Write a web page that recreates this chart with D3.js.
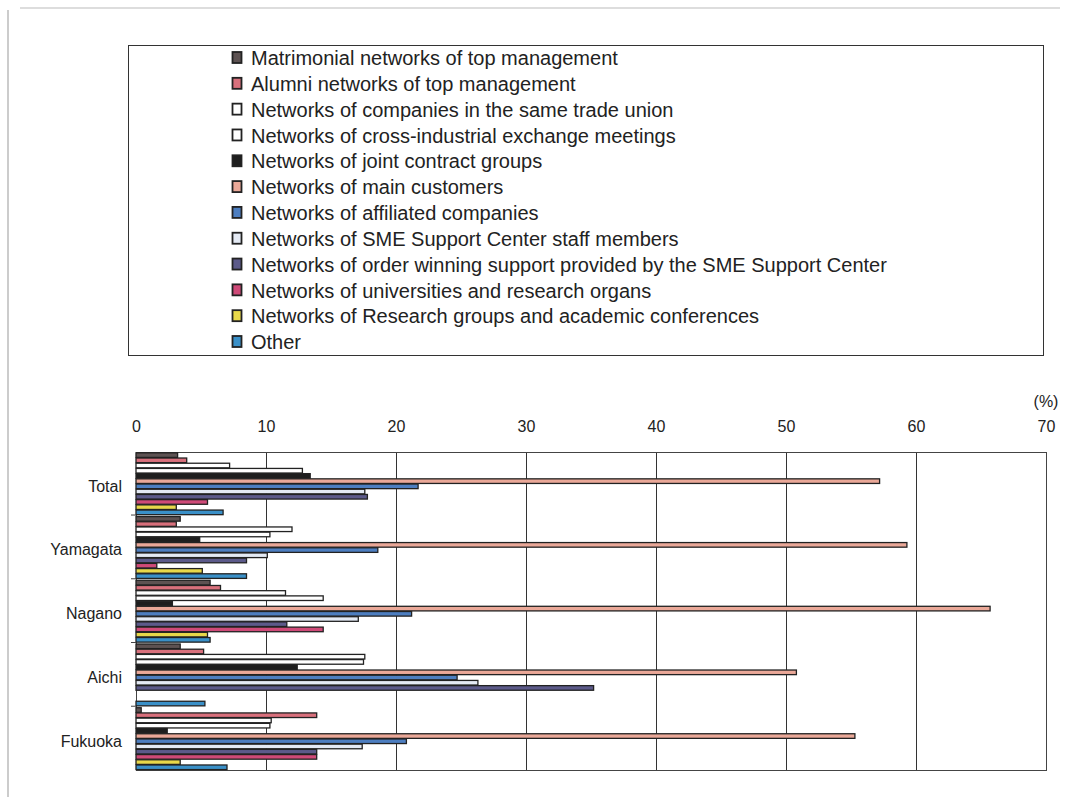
<!DOCTYPE html>
<html>
<head>
<meta charset="utf-8">
<script src="https://cdn.jsdelivr.net/npm/d3@7"></script>
<style>
  html, body { margin: 0; padding: 0; background: #fff; }
  svg { display: block; }
  text { font-family: "Liberation Sans", Arial, sans-serif; fill: #222; }
</style>
</head>
<body>
<svg id="chart" width="1069" height="797"></svg>
<script>
// Regions (groups of bars, top to bottom)
const regions = ["Total", "Yamagata", "Nagano", "Aichi", "Fukuoka"];

// Network types (series, in legend order)
const seriesNames = [
  "Matrimonial networks of top management",
  "Alumni networks of top management",
  "Networks of companies in the same trade union",
  "Networks of cross-industrial exchange meetings",
  "Networks of joint contract groups",
  "Networks of main customers",
  "Networks of affiliated companies",
  "Networks of SME Support Center staff members",
  "Networks of order winning support provided by the SME Support Center",
  "Networks of universities and research organs",
  "Networks of Research groups and academic conferences",
  "Other"
];

// Share of firms (%) per region, one array per series (Total, Yamagata, Nagano, Aichi, Fukuoka)
const matrimonial   = [3.2, 3.4, 5.7, 3.4, 0.4];
const alumni        = [3.9, 3.1, 6.5, 5.2, 13.9];
const tradeUnion    = [7.2, 12.0, 11.5, 17.6, 10.4];
const crossIndustry = [12.8, 10.3, 14.4, 17.5, 10.3];
const jointContract = [13.4, 4.9, 2.8, 12.4, 2.4];
const mainCustomers = [57.2, 59.3, 65.7, 50.8, 55.3];
const affiliated    = [21.7, 18.6, 21.2, 24.7, 20.8];
const smeStaff      = [17.6, 10.1, 17.1, 26.3, 17.4];
const orderWinning  = [17.8, 8.5, 11.6, 35.2, 13.9];
const universities  = [5.5, 1.6, 14.4, 0, 13.9];
const researchGroups= [3.1, 5.1, 5.5, 0, 3.4];
const other         = [6.7, 8.5, 5.7, 5.3, 7.0];

const xTicks = [0, 10, 20, 30, 40, 50, 60, 70];

const seriesValues = [matrimonial, alumni, tradeUnion, crossIndustry, jointContract,
  mainCustomers, affiliated, smeStaff, orderWinning, universities, researchGroups, other];

const fills = ["#5d5252", "#d8707c", "#ffffff", "#ffffff", "#1e1e1e", "#eaa898",
  "#4d7ec0", "#e4eaf4", "#5c5a8a", "#cf4a78", "#e8d84a", "#3a90c8"];

const svg = d3.select("#chart");

// Page frame lines
svg.append("line").attr("x1", 8).attr("x2", 8).attr("y1", 10).attr("y2", 797)
  .attr("stroke", "#999").attr("stroke-width", 1);
svg.append("line").attr("x1", 20).attr("x2", 1060).attr("y1", 8).attr("y2", 8)
  .attr("stroke", "#bbb").attr("stroke-width", 1);

// Legend box
const legend = svg.append("g");
legend.append("rect").attr("x", 128.5).attr("y", 45.5).attr("width", 915).attr("height", 310)
  .attr("fill", "#fff").attr("stroke", "#333").attr("stroke-width", 1);
const legY = d3.scalePoint().domain(seriesNames).range([58, 342]);
seriesNames.forEach((name, i) => {
  const y = legY(name);
  legend.append("rect").attr("x", 232.5).attr("y", y - 6).attr("width", 9).attr("height", 11)
    .attr("fill", fills[i]).attr("stroke", "#222").attr("stroke-width", 1.8);
  legend.append("text").attr("x", 251).attr("y", y).attr("dy", "0.36em")
    .attr("font-size", 20).text(name);
});

// Plot area
const margin = { left: 136, right: 1046, top: 452, bottom: 770 };
const x = d3.scaleLinear().domain([0, 70]).range([margin.left, margin.right]);
const y0 = d3.scaleBand().domain(regions).range([margin.top, margin.bottom]).paddingInner(0.02).paddingOuter(0.005);
const y1 = d3.scaleBand().domain(d3.range(seriesNames.length)).range([0, y0.bandwidth()]).padding(0);

const plot = svg.append("g");

// Vertical grid lines
plot.selectAll("line.grid").data(xTicks.slice(1, -1)).join("line")
  .attr("class", "grid")
  .attr("x1", d => Math.round(x(d)) + 0.5).attr("x2", d => Math.round(x(d)) + 0.5)
  .attr("y1", margin.top).attr("y2", margin.bottom)
  .attr("stroke", "#333").attr("stroke-width", 1);

// Plot frame
plot.append("rect").attr("x", margin.left + 0.5).attr("y", margin.top + 0.5)
  .attr("width", margin.right - margin.left).attr("height", margin.bottom - margin.top)
  .attr("fill", "none").attr("stroke", "#444").attr("stroke-width", 1);

// Bars
regions.forEach((region, r) => {
  const g = plot.append("g").attr("transform", `translate(0,${y0(region)})`);
  g.selectAll("rect").data(seriesValues.map((vals, s) => ({ s, v: vals[r] }))).join("rect")
    .attr("x", x(0))
    .attr("y", d => y1(d.s) + 0.5)
    .attr("width", d => Math.max(0, x(d.v) - x(0)))
    .attr("height", y1.bandwidth() - 0.6)
    .attr("fill", d => fills[d.s])
    .attr("stroke", d => d.v > 0 ? "#222" : "none")
    .attr("stroke-width", 1.3);
});

// Top axis with tick labels
const xAxis = d3.axisTop(x).tickValues(xTicks).tickSize(0).tickPadding(0);
const ax = svg.append("g").attr("transform", `translate(0,432)`).call(xAxis);
ax.select(".domain").remove();
ax.selectAll("text").attr("font-size", 16).attr("fill", "#222").attr("font-family", "Liberation Sans, Arial, sans-serif");

svg.append("text").attr("x", 1046).attr("y", 407).attr("text-anchor", "middle")
  .attr("font-size", 16).text("(%)");

// Left axis with region labels
const yAxis = d3.axisLeft(y0).tickSize(0).tickPadding(14);
const ay = svg.append("g").attr("transform", `translate(${margin.left},3)`).call(yAxis);
ay.select(".domain").remove();
ay.selectAll("text").attr("font-size", 16).attr("fill", "#222").attr("font-family", "Liberation Sans, Arial, sans-serif");

// Small outer ticks between region groups
plot.selectAll("line.ytick").data(regions.slice(1)).join("line")
  .attr("class", "ytick")
  .attr("x1", margin.left - 5).attr("x2", margin.left)
  .attr("y1", d => y0(d) - 1).attr("y2", d => y0(d) - 1)
  .attr("stroke", "#444");
</script>
</body>
</html>
